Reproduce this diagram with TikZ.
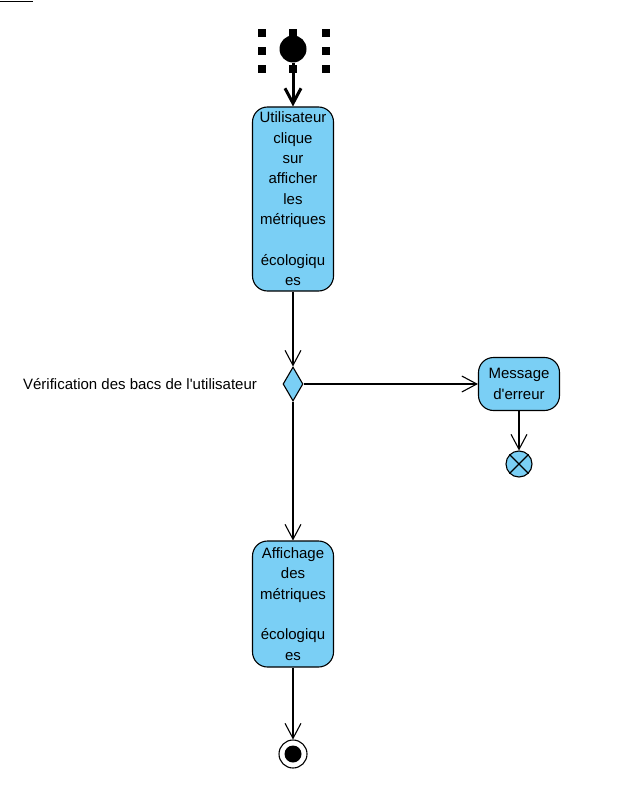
\documentclass[tikz,border=0pt]{standalone}
\usepackage{fontspec}
\setmainfont{Liberation Sans}
\usetikzlibrary{positioning,arrows.meta,shapes.geometric}

\definecolor{actblue}{RGB}{122,207,245}
\tikzset{
  action/.style={draw,fill=actblue,rounded corners=15pt,inner sep=0,align=center,
    minimum width=81pt,font=\fontsize{15}{20.4}\selectfont},
  decision/.style={draw,fill=actblue,diamond,inner sep=0,minimum width=20pt,minimum height=34pt},
  flow/.style={-{Straight Barb[length=15pt,width=16pt]}},
  handle/.style={fill=black,inner sep=0,minimum size=8pt}
}

\begin{document}
\begin{tikzpicture}[x=1pt,y=-1pt,line width=1.1pt]
  \useasboundingbox (0,0) rectangle (634,802);
  % small mark in the upper left corner
  \draw[line width=1.5pt] (0,1.5) -- (33,1.5);
  % initial node with its selection handles
  \node[circle,fill=black,minimum size=27pt,inner sep=0] (start) at (293,49) {};
  \foreach \hx/\hy in {262/33,293/33,326/33,262/51,326/51,262/69,293/69,326/69}
    \node[handle] at (\hx,\hy) {};
  \node[action,minimum height=184pt] (clique) at (293,199)
    {Utilisateur\\clique\\sur\\afficher\\les\\métriques\\[20.4pt]écologiqu\\es};
  \node[decision] (verif) at (293,384) {};
  \node[left=25pt of verif,inner sep=0,font=\fontsize{15}{18}\selectfont] (veriflabel)
    {Vérification des bacs de l\textquotesingle utilisateur};
  \node[action,minimum height=53pt] (erreur) at (519,384) {Message\\d\textquotesingle erreur};
  \node[circle,draw,fill=actblue,minimum size=26pt,inner sep=0] (stoperr) at (519,464) {};
  \draw (stoperr.north west) -- (stoperr.south east);
  \draw (stoperr.north east) -- (stoperr.south west);
  \node[action,minimum height=126pt] (affichage) at (293,604)
    {Affichage\\des\\métriques\\[20.4pt]écologiqu\\es};
  \node[circle,draw,minimum size=28pt,inner sep=0] (fin) at (293,754) {};
  \fill (fin.center) circle (8.5pt);
  % transitions
  \draw[flow,line width=3pt] (start) -- (clique);
  \draw[flow] (clique) -- (verif);
  \draw[flow] (verif) -- (erreur);
  \draw[flow] (erreur) -- (stoperr);
  \draw[flow] (verif) -- (affichage);
  \draw[flow] (affichage) -- (fin);
\end{tikzpicture}
\end{document}
